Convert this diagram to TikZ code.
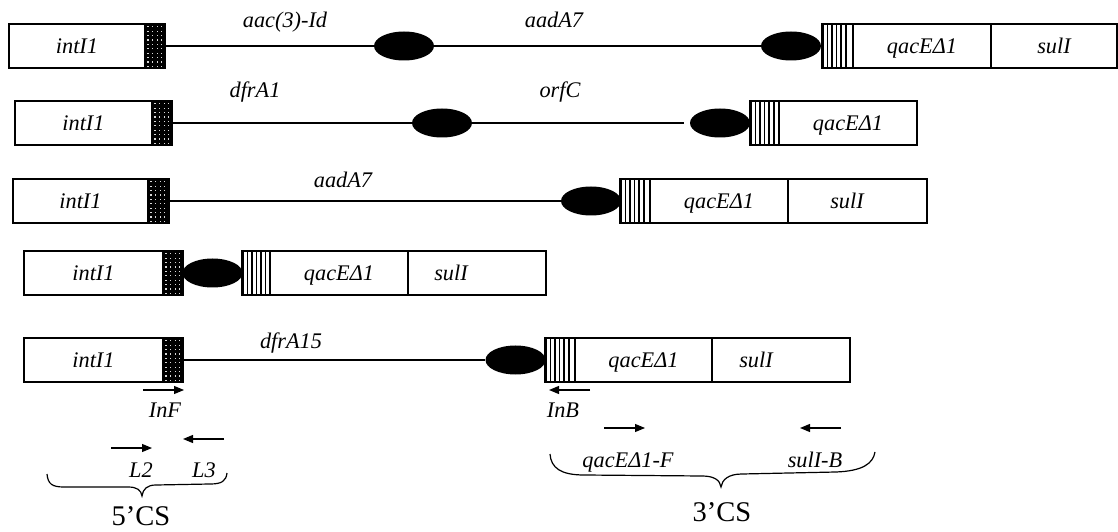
\documentclass[tikz,border=0pt]{standalone}
\usepackage{fontspec}
\setmainfont{Liberation Serif}
\usetikzlibrary{shapes.geometric,arrows.meta,calc}
\tikzset{
  box/.style={draw, line width=1.2bp, minimum height=44bp, inner sep=0pt, outer sep=0pt},
  lbl/.style={font=\fontsize{22.3bp}{26bp}\selectfont\itshape, inner sep=0pt, text height=15bp, text depth=0pt},
  gene/.style={box, lbl, fill=white},
  dotbox/.style={box, fill=black, path picture={
      \foreach \i in {0,...,3}{\foreach \j in {0,...,9}{
        \fill[white!85!black] ($(path picture bounding box.north west)+(2.3+4.6*\i,2.2+4.4*\j)$) rectangle +(1.2,1.2);}}}},
  stripebox/.style={box, fill=white, path picture={
      \foreach \k in {0,...,5}{
        \draw[line width=1.6bp] ($(path picture bounding box.north west)+(0.8+4.6*\k,0)$) -- +(0,44);}
      \fill ($(path picture bounding box.north east)+(-3.6,0)$) rectangle (path picture bounding box.south east);}},
  cass/.style={ellipse, fill=black, draw=none, minimum width=60bp, minimum height=29bp, inner sep=0pt},
  cs/.style={font=\fontsize{28.5bp}{32bp}\selectfont, inner sep=0pt, text height=19bp, text depth=0pt},
  link/.style={line width=1.1bp},
  brc/.style={line width=1.2bp},
  primer/.style={line width=1.1bp, -{Triangle[length=10bp,width=8bp]}},
}
\begin{document}
\begin{tikzpicture}[x=1bp, y=-1bp]
\useasboundingbox (0,0) rectangle (1118,532);
% ---------- row 1
\node[gene, minimum width=136bp] (r1i) at (77,46) {intI1};
\node[dotbox, minimum width=20bp] (r1d) at (155,46) {};
\node[cass] (r1a) at (404,46) {};
\node[cass] (r1b) at (791,46) {};
\node[stripebox, minimum width=31bp] (r1s) at (837.5,46) {};
\node[gene, minimum width=138bp] (r1q) at (922,46) {qacEΔ1};
\node[gene, minimum width=126bp] (r1u) at (1054,46) {sulI};
\draw[link] (r1d) -- (r1a);
\draw[link] (r1a) -- (r1b);
\node[lbl] (t1a) at (285,20) {aac(3)-Id};
\node[lbl] (t1b) at (554,20.5) {aadA7};
% ---------- row 2
\node[gene, minimum width=137bp] (r2i) at (83.5,123) {intI1};
\node[dotbox, minimum width=20bp] (r2d) at (162,123) {};
\node[cass] (r2a) at (442,123) {};
\node[cass] (r2b) at (720,123) {};
\coordinate (r2g) at (684,123);
\node[stripebox, minimum width=29bp] (r2s) at (764.5,123) {};
\node[gene, minimum width=138bp] (r2q) at (848,123) {qacEΔ1};
\draw[link] (r2d) -- (r2a);
\draw[link] (r2a) -- (r2g);
\node[lbl] (t2a) at (255,90) {dfrA1};
\node[lbl] (t2b) at (560,90) {orfC};
% ---------- row 3
\node[gene, minimum width=135bp] (r3i) at (80.5,201) {intI1};
\node[dotbox, minimum width=21bp] (r3d) at (158.5,201) {};
\node[cass] (r3a) at (591,201) {};
\node[stripebox, minimum width=30bp] (r3s) at (635,201) {};
\node[gene, minimum width=138bp] (r3q) at (719,201) {qacEΔ1};
\node[box, minimum width=139bp] (r3u) at (857.5,201) {};
\node[lbl] (t3u) at (847,201) {sulI};
\draw[link] (r3d) -- (r3a);
\node[lbl] (t3a) at (343,180.5) {aadA7};
% ---------- row 4
\node[gene, minimum width=139bp] (r4i) at (93.5,273) {intI1};
\node[dotbox, minimum width=20bp] (r4d) at (173,273) {};
\node[cass] (r4a) at (212.5,273) {};
\node[stripebox, minimum width=28bp] (r4s) at (256,273) {};
\node[gene, minimum width=138bp] (r4q) at (339,273) {qacEΔ1};
\node[box, minimum width=138bp] (r4u) at (477,273) {};
\node[lbl] (t4u) at (451,273) {sulI};
% ---------- row 5
\node[gene, minimum width=139bp] (r5i) at (93.5,360) {intI1};
\node[dotbox, minimum width=20bp] (r5d) at (173,360) {};
\node[cass] (r5a) at (515.5,360) {};
\node[stripebox, minimum width=30bp] (r5s) at (560,360) {};
\node[gene, minimum width=137bp] (r5q) at (643.5,360) {qacEΔ1};
\node[box, minimum width=138bp] (r5u) at (781,360) {};
\node[lbl] (t5u) at (756,360) {sulI};
\draw[link] (r5d) -- (r5a);
\node[lbl] (t5a) at (291,341) {dfrA15};
% ---------- primers
\coordinate (inf1) at (143,390); \coordinate (inf2) at (184,390);
\draw[primer] (inf1) -- (inf2);
\node[lbl] (tinf) at (165,410) {InF};
\coordinate (inb1) at (590,390); \coordinate (inb2) at (549,390);
\draw[primer] (inb1) -- (inb2);
\node[lbl] (tinb) at (563,410) {InB};
\coordinate (l21) at (111,448); \coordinate (l22) at (152,448);
\draw[primer] (l21) -- (l22);
\node[lbl] (tl2) at (141,469.5) {L2};
\coordinate (l31) at (224,439); \coordinate (l32) at (183,439);
\draw[primer] (l31) -- (l32);
\node[lbl] (tl3) at (204,469.5) {L3};
\coordinate (qf1) at (604,428); \coordinate (qf2) at (645,428);
\draw[primer] (qf1) -- (qf2);
\node[lbl] (tqf) at (628,460) {qacEΔ1-F};
\coordinate (sb1) at (841,428); \coordinate (sb2) at (800,428);
\draw[primer] (sb1) -- (sb2);
\node[lbl] (tsb) at (815,460) {sulI-B};
% ---------- braces
\coordinate (b5a) at (47,474); \coordinate (b5t) at (142,496); \coordinate (b5b) at (227,473);
\draw[brc] (b5a) .. controls (48,484) and (52,487) .. (64,487) -- (128,487)
  .. controls (137,487) and (141,490) .. (b5t)
  .. controls (143,489) and (147,485) .. (156,485) -- (210,484)
  .. controls (222,484) and (226,481) .. (b5b);
\node[cs] (t5cs) at (141,516) {5’CS};
\coordinate (b3a) at (550,454); \coordinate (b3t) at (721,487); \coordinate (b3b) at (875,452);
\draw[brc] (b3a) .. controls (551,468) and (561,475) .. (584,475) -- (702,476)
  .. controls (714,476) and (720,480) .. (b3t)
  .. controls (722,480) and (728,474) .. (742,474) -- (836,472)
  .. controls (862,471) and (873,464) .. (b3b);
\node[cs] (t3cs) at (722,512) {3’CS};
\end{tikzpicture}
\end{document}
